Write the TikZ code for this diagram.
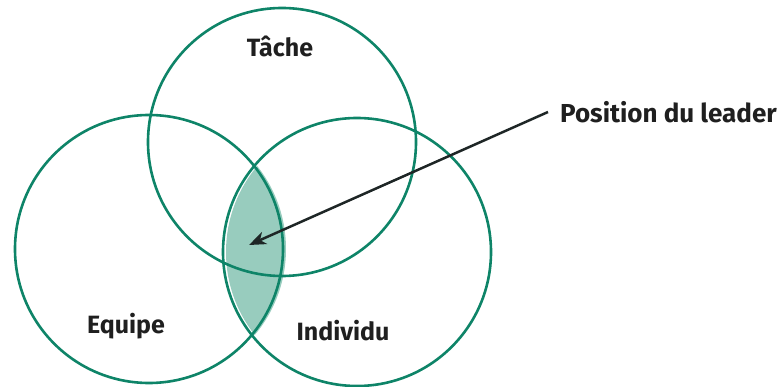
\documentclass[tikz,border=0pt]{standalone}
\usepackage{fontspec}
\setmainfont{Fira Sans}
\usetikzlibrary{arrows.meta}
\definecolor{ringgreen}{HTML}{0E8468}
\definecolor{lensfill}{HTML}{98CCBE}
\definecolor{arrowdark}{HTML}{1E2626}
\tikzset{
  ring/.style={draw=ringgreen, line width=2.6pt},
  lbl/.style={font=\fontsize{25}{27}\selectfont\bfseries, text=black!88, inner sep=0pt},
}
\begin{document}
\begin{tikzpicture}[x=1pt,y=-1pt]
\useasboundingbox (0,0) rectangle (777,387);
% lens shading (intersection Equipe / Individu), slightly offset
\begin{scope}[xshift=3pt]
  \clip (149,249) circle[radius=134];
  \fill[lensfill] (357,252) circle[radius=134];
\end{scope}
\node[ring, circle, minimum size=268pt, inner sep=0pt] (tache) at (282,142) {};
\node[ring, circle, minimum size=268pt, inner sep=0pt] (equipe) at (149,249) {};
\node[ring, circle, minimum size=268pt, inner sep=0pt] (individu) at (357,252) {};
\node[lbl] (tT) at (280,46) {Tâche};
\node[lbl] (tE) at (126,326) {Equipe};
\node[lbl] (tI) at (343,331) {Individu};
\node[lbl, anchor=west] (tP) at (560,112) {\fontsize{26}{28}\selectfont Position du leader};
\coordinate (tip) at (249,245);
\draw[arrowdark, line width=2.5pt, -{Stealth[length=17pt, width=13pt, inset=5pt]}] (tP.west) ++(-12,0) -- (tip);
\end{tikzpicture}
\end{document}
